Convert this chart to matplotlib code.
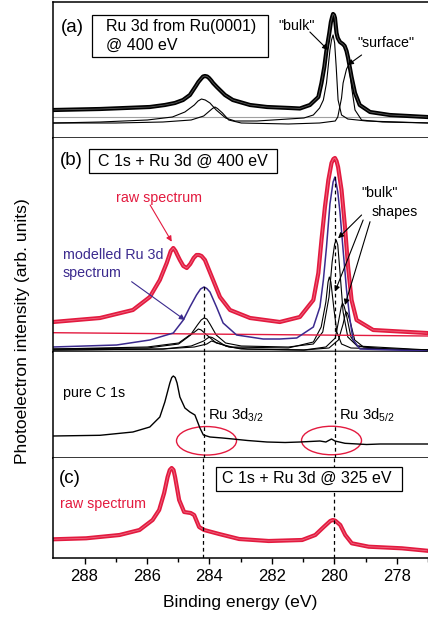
import matplotlib
matplotlib.use('Agg')
import matplotlib.pyplot as plt
from matplotlib.patches import Ellipse, Rectangle

plt.rcParams['font.family'] = ['Liberation Sans', 'DejaVu Sans']
plt.rcParams['mathtext.default'] = 'regular'

RED = '#e31a3f'
BLUE = '#3b2a8e'
GREY = '#a0a0a0'

# ---- panel (a): Ru 3d from Ru(0001) @ 400 eV ----
a_raw_e = [289.0, 287.51, 285.92, 285.44, 285.12, 284.86, 284.64, 284.45, 284.37, 284.29,
           284.22, 284.16, 284.09, 284.03, 283.96, 283.90, 283.78, 283.52, 283.27, 282.72,
           282.18, 281.45, 281.13, 280.81, 280.54, 280.44, 280.35, 280.28, 280.19, 280.14,
           280.10, 280.07, 280.04, 280.01, 279.96, 279.92, 279.85, 279.76, 279.70, 279.64,
           279.59, 279.48, 279.37, 279.22, 278.89, 278.26, 277.07]
a_raw_i = [28, 29, 31, 33, 35, 38, 43, 52, 56, 59,
           61.5, 62, 61.5, 60, 57.5, 55, 51, 43, 38, 33,
           31, 30, 29.5, 33, 41, 55, 71, 88, 105, 116,
           121, 124, 123, 120, 105, 100, 96, 94, 92, 87,
           80, 61, 45, 33, 26, 23, 21]
a_bulk_e = [289.0, 287.5, 286.0, 285.2, 284.8, 284.5, 284.38, 284.27, 284.15, 284.0, 283.8,
            283.5, 283.2, 282.5, 281.5, 281.0, 280.7, 280.5, 280.38, 280.28, 280.17, 280.12,
            280.07, 280.02, 279.97, 279.91, 279.80, 279.6, 279.0, 277.0]
a_bulk_i = [15, 16, 18, 21, 26, 33, 37, 39, 38, 35, 28,
            20, 17, 17, 19, 20, 23, 30, 38, 55, 88, 98,
            103, 95, 71, 38, 23, 19, 17, 15]
a_surf_e = [289.0, 287.0, 285.5, 284.6, 284.2, 283.92, 283.84, 283.76, 283.6, 283.4, 283.0,
            281.5, 280.5, 280.0, 279.92, 279.8, 279.75, 279.64, 279.59, 279.54, 279.48,
            279.37, 279.16, 278.5, 277.0]
a_surf_i = [15, 15, 16, 18, 22, 29.5, 31, 29.5, 25, 18, 15,
            14, 15, 17, 21, 40, 55, 69, 72, 68, 51,
            28, 18, 16, 15]
a_base = 21

# ---- panel (b): C 1s + Ru 3d @ 400 eV ----
b_raw_e = [289.01, 287.51, 286.46, 285.92, 285.60, 285.38, 285.25, 285.17, 285.10, 285.04,
           284.96, 284.85, 284.74, 284.63, 284.52, 284.43, 284.35, 284.27, 284.16, 283.90,
           283.68, 283.36, 282.72, 281.77, 281.13, 280.70, 280.54, 280.44, 280.33, 280.22,
           280.12, 280.06, 280.01, 279.96, 279.91, 279.80, 279.69, 279.59, 279.48, 279.32,
           278.79, 277.08]
b_raw_i = [30, 34, 42, 55, 72, 89, 101, 104, 101, 97,
           92, 86, 84, 88, 94, 97, 97, 96, 92, 72,
           55, 42, 34, 30, 35, 52, 79, 112, 145, 172,
           189, 193, 194, 191, 185, 162, 125, 85, 52, 32,
           22, 19]
b_model_e = [289.01, 286.98, 285.92, 285.17, 284.85, 284.64, 284.43, 284.30, 284.19, 284.10,
             284.00, 283.79, 283.58, 283.15, 282.30, 281.77, 281.23, 280.70, 280.49, 280.38,
             280.28, 280.17, 280.07, 280.01, 279.92, 279.85, 279.75, 279.64, 279.53, 279.43,
             279.21, 277.08]
b_model_i = [5, 7, 12, 19, 32, 45, 57, 63, 65, 63.5,
             60, 45, 29, 17, 13, 13, 14, 25, 45, 72,
             105, 148, 170, 175, 160, 140, 102, 62, 32, 12,
             3, 1]
b_bg_e = [289.01, 277.04]
b_bg_i = [19.3, 16]
b_comp_e = [
    [289.0, 286.0, 285.0, 284.6, 284.4, 284.28, 284.19, 284.1, 284.0, 283.8, 283.5, 283.0,
     281.5, 280.7, 280.4, 280.2, 280.1, 280.02, 279.97, 279.92, 279.85, 279.75, 279.6,
     279.3, 277.0],
    [289.0, 286.0, 285.0, 284.7, 284.45, 284.37, 284.28, 284.1, 283.8, 283.3, 281.5, 280.7,
     280.45, 280.3, 280.23, 280.19, 280.14, 280.05, 279.95, 279.8, 279.5, 277.0],
    [289.0, 285.5, 284.6, 284.2, 284.07, 284.0, 283.93, 283.8, 283.5, 283.0, 281.0, 280.3,
     280.0, 279.9, 279.81, 279.77, 279.72, 279.65, 279.5, 279.3, 278.5, 277.0],
    [289.0, 285.5, 284.5, 284.1, 283.95, 283.75, 283.4, 282.8, 281.0, 280.2, 279.9, 279.75,
     279.68, 279.64, 279.6, 279.52, 279.38, 279.1, 278.3, 277.0],
]
b_comp_i = [
    [3, 5, 9, 18, 27, 32, 34, 33, 28, 17, 9, 6,
     5, 8, 20, 55, 90, 108, 112, 107, 80, 40, 15,
     6, 2],
    [3, 4, 8, 15, 21, 23, 22, 17, 9, 5, 4, 10,
     25, 50, 70, 75, 70, 45, 20, 8, 4, 2],
    [2, 3, 6, 11, 14, 15, 14.5, 12, 6, 3, 2, 5,
     14, 30, 45, 49, 46, 38, 15, 6, 3, 2],
    [2, 3, 5, 8, 11, 9, 5, 3, 2, 4, 12, 28,
     38, 40, 38, 30, 12, 5, 3, 2],
]
b_base = 2
b_dash_top = [67, 177]

# ---- pure C 1s ----
c1s_e = [289.01, 287.51, 286.46, 285.92, 285.60, 285.44, 285.28, 285.22, 285.17, 285.11,
         285.05, 284.96, 284.80, 284.64, 284.48, 284.32, 284.21, 284.00, 283.6, 283.27,
         282.8, 282.18, 281.6, 281.13, 280.49, 280.30, 280.12, 280.01, 279.69, 279.0,
         278.57, 277.04]
c1s_i = [22, 22.7, 26, 31, 41, 56, 75, 80.5, 82, 80.5,
         75, 61, 50, 46, 43, 30, 23, 21, 20, 19,
         17.5, 16, 15.5, 16, 17, 16, 19, 17, 14.7, 13.5,
         14, 14]
ru_marks = [284.2, 280.0]
ellipse_e = [284.11, 280.12]
ellipse_i = [17.2, 17.5]

# ---- panel (c): C 1s + Ru 3d @ 325 eV ----
c_raw_e = [289.01, 287.95, 286.88, 286.24, 285.82, 285.61, 285.45, 285.34, 285.27, 285.21,
           285.15, 285.10, 284.97, 284.81, 284.60, 284.49, 284.33, 284.17, 283.69, 283.05,
           282.10, 281.03, 280.61, 280.34, 280.13, 280.05, 279.97, 279.81, 279.65, 279.44,
           278.90, 277.84, 277.04]
c_raw_i = [18.7, 19.7, 23, 28, 38, 48, 65, 81, 88, 90,
           88, 81, 58, 46, 45, 43, 31, 28, 24, 19,
           17, 18, 23, 31, 37, 38, 37.3, 33, 23, 14.7,
           11.3, 9.7, 7.3]

xticks_major = [288, 286, 284, 282, 280, 278]

W, H = 428, 618
fig = plt.figure(figsize=(W / 100, H / 100), dpi=100)


def place(y0, y1):
    return [53 / W, 1 - y1 / H, (W - 53) / W, (y1 - y0) / H]


ax_a = fig.add_axes(place(2, 138))
ax_b = fig.add_axes(place(138, 352))
ax_b2 = fig.add_axes(place(352, 458))
ax_c = fig.add_axes(place(458, 558))

for ax, top in [(ax_a, 136), (ax_b, 214), (ax_b2, 106), (ax_c, 100)]:
    ax.set_xlim(289.01, 277.04)
    ax.set_ylim(0, top)
    ax.set_yticks([])
    ax.spines['right'].set_visible(False)
    ax.spines['top'].set_visible(ax is ax_a)
    for s in ax.spines.values():
        s.set_linewidth(1.1)
    if ax is not ax_c:
        ax.set_xticks([])


def raw_plot(ax, e, i, color):
    # dense open circles in the original -> thick band with a light core
    ax.plot(e, i, color=color, lw=3.0, solid_joinstyle='round')
    ax.plot(e, i, color='white', lw=0.6, alpha=0.35)


SMALL = 10.3
BOX = 11.5

# panel a
ax_a.axhline(a_base, color=GREY, lw=0.8)
ax_a.plot(a_bulk_e, a_bulk_i, color='black', lw=0.8)
ax_a.plot(a_surf_e, a_surf_i, color='black', lw=0.8)
raw_plot(ax_a, a_raw_e, a_raw_i, 'black')
ax_a.text(288.40, 110, '(a)', fontsize=13.5, ha='center', va='center')
ax_a.add_patch(Rectangle((287.78, 81), 282.15 - 287.78, 42, fill=False, lw=0.9, zorder=5))
ax_a.text(287.32, 111, 'Ru 3d from Ru(0001)', fontsize=BOX, va='center')
ax_a.text(287.32, 93, '@ 400 eV', fontsize=BOX, va='center')
arr = dict(arrowstyle='-|>', color='black', lw=0.8, mutation_scale=8, shrinkA=0, shrinkB=0)
ax_a.text(281.82, 112, '"bulk"', fontsize=SMALL, va='center')
ax_a.annotate('', xy=(280.23, 88), xytext=(280.81, 106), arrowprops=arr)
ax_a.text(279.31, 95, '"surface"', fontsize=SMALL, va='center')
ax_a.annotate('', xy=(279.60, 73), xytext=(279.16, 83), arrowprops=arr)

# panel b
ax_b.axhline(b_base, color=GREY, lw=0.8)
for e, i in zip(b_comp_e, b_comp_i):
    ax_b.plot(e, i, color='black', lw=0.8)
ax_b.plot(b_bg_e, b_bg_i, color=RED, lw=1.0)
ax_b.plot(b_model_e, b_model_i, color=BLUE, lw=1.1)
raw_plot(ax_b, b_raw_e, b_raw_i, RED)
for x, t in zip(ru_marks, b_dash_top):
    ax_b.vlines(x, 0, t, colors='black', linestyles=(0, (3, 2.5)), lw=0.9)
ax_b.text(288.41, 191.3, '(b)', fontsize=13.5, ha='center', va='center')
ax_b.add_patch(Rectangle((287.86, 178.7), 281.86 - 287.86, 24, fill=False, lw=0.9, zorder=5))
ax_b.text(287.58, 191, 'C 1s + Ru 3d @ 400 eV', fontsize=BOX, va='center')
ax_b.text(287.00, 153.7, 'raw spectrum', fontsize=SMALL, color=RED, va='center')
ax_b.annotate('', xy=(285.22, 110.3), xytext=(285.91, 147),
              arrowprops=dict(arr, color=RED))
ax_b.text(288.69, 97, 'modelled Ru 3d', fontsize=SMALL, color=BLUE, va='center')
ax_b.text(288.69, 79.3, 'spectrum', fontsize=SMALL, color=BLUE, va='center')
ax_b.annotate('', xy=(284.80, 32), xytext=(286.50, 70.3),
              arrowprops=dict(arr, color=BLUE))
ax_b.text(279.16, 159.3, '"bulk"', fontsize=SMALL, va='center')
ax_b.text(278.85, 140.3, 'shapes', fontsize=SMALL, va='center')
for head, tail in [((279.91, 113.7), (279.16, 137)),
                   ((280.01, 60.3), (279.11, 132)),
                   ((279.69, 47), (278.89, 130.3))]:
    ax_b.annotate('', xy=head, xytext=tail, arrowprops=arr)

# pure C 1s
ax_b2.plot(c1s_e, c1s_i, color='black', lw=1.0)
for x in ru_marks:
    ax_b2.axvline(x, color='black', ls=(0, (3, 2.5)), lw=0.9)
for e, i in zip(ellipse_e, ellipse_i):
    ax_b2.add_patch(Ellipse((e, i), 1.915, 28.5, fill=False, ec=RED, lw=1.0))
ax_b2.text(288.70, 65.3, 'pure C 1s', fontsize=SMALL, va='center')
ax_b2.text(284.06, 43, 'Ru 3d$_{3/2}$', fontsize=10.7, va='center')
ax_b2.text(279.87, 43, 'Ru 3d$_{5/2}$', fontsize=10.7, va='center')

# panel c
raw_plot(ax_c, c_raw_e, c_raw_i, RED)
for x in ru_marks:
    ax_c.axvline(x, color='black', ls=(0, (3, 2.5)), lw=0.9)
ax_c.text(288.48, 80, '(c)', fontsize=13.5, ha='center', va='center')
ax_c.add_patch(Rectangle((283.80, 67.3), 277.82 - 283.80, 24, fc='white', ec='black',
                         lw=0.9, zorder=5))
ax_c.text(283.59, 79.3, 'C 1s + Ru 3d @ 325 eV', fontsize=BOX, va='center', zorder=6)
ax_c.text(288.78, 53.7, 'raw spectrum', fontsize=SMALL, color=RED, va='center')
ax_c.set_xticks(xticks_major)
ax_c.set_xticks([287, 285, 283, 281, 279, 277], minor=True)
ax_c.tick_params(axis='x', which='major', length=4, width=1, direction='out',
                 labelsize=12, pad=4)
ax_c.tick_params(axis='x', which='minor', length=3, width=1, direction='out')

fig.text(240.5 / W, 1 - 603 / H, 'Binding energy (eV)', fontsize=12.6,
         ha='center', va='center')
fig.text(23 / W, 1 - 331 / H, 'Photoelectron intensity (arb. units)', fontsize=12.6,
         ha='center', va='center', rotation=90)

fig.savefig('out.png', dpi=100)
